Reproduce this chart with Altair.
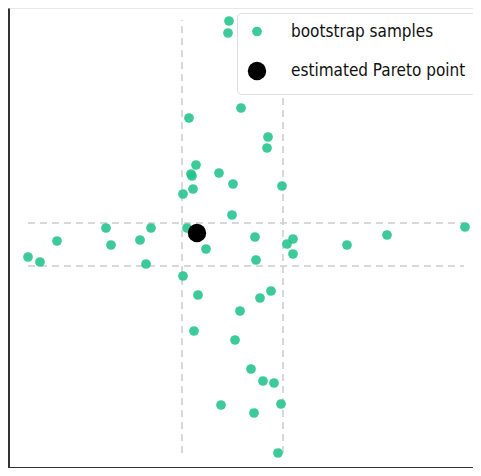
import altair as alt
import pandas as pd

# bootstrap sample coordinates (arbitrary units)
boot_x = [2.29, 2.28, 2.41, 1.89, 2.68, 2.67, 1.96, 1.91, 1.92, 2.19, 2.33, 1.93,
          1.83, 2.82, 2.32, 1.06, 1.51, 1.87, 4.65, 3.87, 2.55, 2.93, 2.87, 0.57,
          1.11, 1.40, 3.47, 2.06, 0.28, 0.40, 2.93, 2.56, 1.46, 1.83, 1.98, 2.71,
          2.60, 2.40, 1.94, 2.35, 2.51, 2.63, 2.74, 2.21, 2.54, 2.81, 2.78]
boot_y = [4.59, 4.47, 3.72, 3.62, 3.43, 3.32, 3.15, 3.06, 3.04, 3.07, 2.96, 2.91,
          2.86, 2.94, 2.65, 2.52, 2.52, 2.52, 2.53, 2.45, 2.43, 2.41, 2.36, 2.39,
          2.35, 2.40, 2.35, 2.31, 2.23, 2.18, 2.26, 2.20, 2.16, 2.04, 1.85, 1.89,
          1.82, 1.69, 1.49, 1.40, 1.11, 0.99, 0.97, 0.75, 0.67, 0.76, 0.27]
pareto_x = [1.97]
pareto_y = [2.47]

# confidence band lines
vline_x = [1.82, 2.83]
vline_y0 = [0.27, 0.27]
vline_y1 = [4.60, 4.60]
hline_y = [2.57, 2.14]
hline_x0 = [0.28, 0.28]
hline_x1 = [4.64, 4.64]

labels = ["bootstrap samples", "estimated Pareto point"]

pts = pd.DataFrame({
    "x": boot_x + pareto_x,
    "y": boot_y + pareto_y,
    "kind": [labels[0]] * len(boot_x) + [labels[1]] * len(pareto_x),
    "order": [0] * len(boot_x) + [1] * len(pareto_x),
})
vl = pd.DataFrame({"x": vline_x, "y": vline_y0, "y2": vline_y1})
hl = pd.DataFrame({"y": hline_y, "x": hline_x0, "x2": hline_x1})

xs = alt.Scale(domain=[0.08, 4.83], nice=False, zero=False)
ys = alt.Scale(domain=[0.12, 4.72], nice=False, zero=False)
noax = alt.Axis(labels=False, ticks=False, title=None, grid=False,
                domainColor="#333333", domainWidth=3)

dash = dict(color="#cccccc", strokeWidth=1.5, strokeDash=[7, 5])
vrules = alt.Chart(vl).mark_rule(**dash).encode(
    x=alt.X("x:Q", scale=xs, axis=noax),
    y=alt.Y("y:Q", scale=ys, axis=noax),
    y2="y2:Q",
)
hrules = alt.Chart(hl).mark_rule(**dash).encode(
    y=alt.Y("y:Q", scale=ys, axis=noax),
    x=alt.X("x:Q", scale=xs, axis=noax),
    x2="x2:Q",
)

leg = dict(title=None, orient="none", legendX=229, legendY=5,
           labelFontSize=17, labelFont="DejaVu Sans Condensed",
           labelColor="#111111", labelOffset=24, labelLimit=0,
           rowPadding=18, padding=10,
           strokeColor="#dddddd", fillColor="white",
           cornerRadius=4, symbolOpacity=1)

points = alt.Chart(pts).mark_circle().encode(
    x=alt.X("x:Q", scale=xs, axis=noax),
    y=alt.Y("y:Q", scale=ys, axis=noax),
    color=alt.Color("kind:N", scale=alt.Scale(domain=labels, range=["#22c38b", "#000000"]),
                    legend=alt.Legend(**leg)),
    size=alt.Size("kind:N", scale=alt.Scale(domain=labels, range=[95, 340]),
                  legend=alt.Legend(**leg)),
    opacity=alt.Opacity("kind:N", scale=alt.Scale(domain=labels, range=[0.88, 1.0]),
                        legend=None),
    order="order:Q",
)

chart = alt.layer(vrules, hrules, points).properties(
    width=475, height=460,
    padding={"left": 0, "top": 0, "right": -10, "bottom": 0},
    autosize=alt.AutoSizeParams(type="none"),
).configure_view(stroke="#e0e0e0", strokeWidth=1.5)

chart.save("out.html", embed_options={"renderer": "svg", "actions": False})
